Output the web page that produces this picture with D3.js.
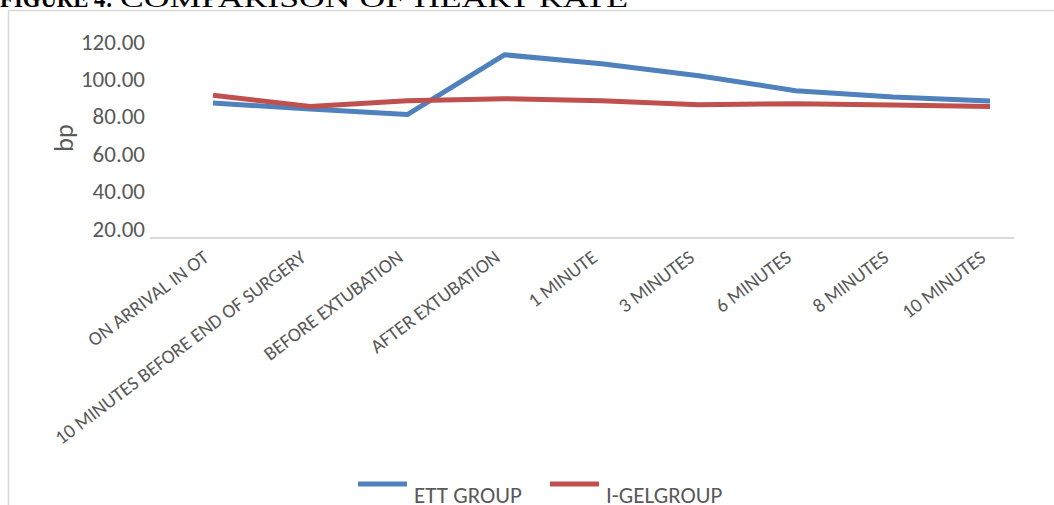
<!DOCTYPE html>
<html>
<head>
<meta charset="utf-8">
<script src="https://cdn.jsdelivr.net/npm/d3@7/dist/d3.min.js"></script>
<style>
  html, body { margin: 0; padding: 0; background: #fff; }
  svg { display: block; }
</style>
</head>
<body>
<div id="chart"></div>
<script>
// Heart rate (beats per minute) at each time point for both groups
const categories = [
  "ON ARRIVAL IN OT",
  "10 MINUTES BEFORE END OF SURGERY",
  "BEFORE EXTUBATION",
  "AFTER EXTUBATION",
  "1 MINUTE",
  "3 MINUTES",
  "6 MINUTES",
  "8 MINUTES",
  "10 MINUTES"
];
const ettGroup  = [87.2, 84.0, 81.0, 113.0, 108.2, 101.8, 93.8, 90.4, 88.3];
const igelGroup = [91.3, 85.4, 88.4, 89.5, 88.4, 86.3, 86.8, 86.1, 85.4];
const yTicks = [20, 40, 60, 80, 100, 120];
const seriesNames = ["ETT GROUP", "I-GELGROUP"];

const W = 1054, H = 505;
const uiFont = "Carlito, Calibri, Lato, 'Liberation Sans', sans-serif";
const textGrey = "#595959";
const colors = ["#4f81bd", "#c0504d"];

const svg = d3.select("#chart").append("svg")
  .attr("width", W).attr("height", H);

// Figure caption above the chart frame
svg.append("text")
  .attr("x", 0).attr("y", 7)
  .attr("font-family", "'Liberation Serif', 'Times New Roman', serif")
  .attr("font-size", 26).attr("font-weight", "bold")
  .attr("textLength", 113).attr("lengthAdjust", "spacingAndGlyphs")
  .text("FIGURE 4:");
svg.append("text")
  .attr("x", 120).attr("y", 7)
  .attr("font-family", "'Liberation Serif', 'Times New Roman', serif")
  .attr("font-size", 26)
  .attr("textLength", 508).attr("lengthAdjust", "spacingAndGlyphs")
  .text("COMPARISON OF HEART RATE");

// Chart frame
svg.append("rect")
  .attr("x", 8.5).attr("y", 10.5)
  .attr("width", W + 10).attr("height", H + 10)
  .attr("fill", "none").attr("stroke", "#d9d9d9").attr("stroke-width", 1.5);

// Scales
const x = d3.scalePoint().domain(categories).range([213, 990]);
const y = d3.scaleLinear().domain([15, 120]).range([238, 41.7]);

// Value axis labels
const yAxis = d3.axisLeft(y)
  .tickValues(yTicks)
  .tickFormat(d3.format(".2f"))
  .tickSize(0).tickPadding(0);
const gy = svg.append("g").attr("transform", "translate(145,0)").call(yAxis);
gy.select(".domain").remove();
gy.selectAll("text")
  .attr("font-family", uiFont).attr("font-size", 23)
  .attr("fill", textGrey);

// Axis title
svg.append("text")
  .attr("transform", "translate(73,138) rotate(-90)")
  .attr("text-anchor", "middle")
  .attr("font-family", uiFont).attr("font-size", 26)
  .attr("fill", textGrey)
  .text("bp");

// Category axis baseline
svg.append("line")
  .attr("x1", 150).attr("x2", 1014)
  .attr("y1", y(15)).attr("y2", y(15))
  .attr("stroke", "#d9d9d9").attr("stroke-width", 2);

// Rotated category labels
svg.append("g").selectAll("text")
  .data(categories)
  .join("text")
  .attr("transform", d => `translate(${x(d) - 3},${y(15) + 22}) rotate(-37)`)
  .attr("text-anchor", "end")
  .attr("font-family", uiFont).attr("font-size", 19.5)
  .attr("fill", textGrey)
  .text(d => d);

// Series lines
const line = d3.line()
  .x((d, i) => x(categories[i]))
  .y(d => y(d));

[ettGroup, igelGroup].forEach((vals, k) => {
  svg.append("path")
    .datum(vals)
    .attr("d", line)
    .attr("fill", "none")
    .attr("stroke", colors[k])
    .attr("stroke-width", 5)
    .attr("stroke-linejoin", "round");
});

// Legend
const legendItems = [
  { name: seriesNames[0], color: colors[0], x: 358 },
  { name: seriesNames[1], color: colors[1], x: 550 }
];
const lg = svg.append("g").selectAll("g")
  .data(legendItems)
  .join("g")
  .attr("transform", d => `translate(${d.x},0)`);
lg.append("line")
  .attr("x1", 0).attr("x2", 49)
  .attr("y1", 484).attr("y2", 484)
  .attr("stroke", d => d.color).attr("stroke-width", 5);
lg.append("text")
  .attr("x", 56).attr("y", 503)
  .attr("font-family", uiFont).attr("font-size", 23)
  .attr("fill", textGrey)
  .text(d => d.name);
</script>
</body>
</html>
